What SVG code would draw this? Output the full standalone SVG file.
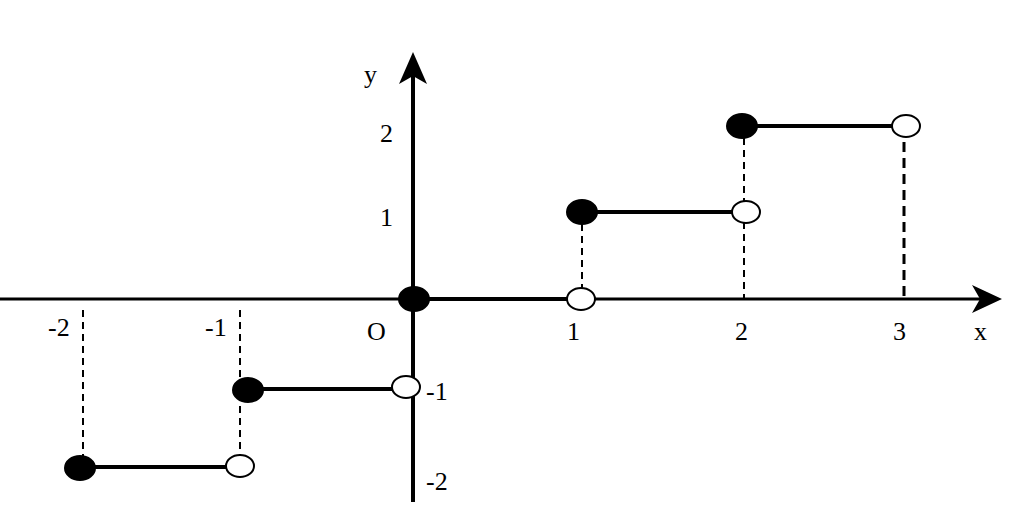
<svg xmlns="http://www.w3.org/2000/svg" width="1024" height="532" viewBox="0 0 1024 532">
<style>
.t{font-family:"Liberation Serif",serif;font-size:26px;fill:#000}
.seg{stroke:#000;stroke-width:4}
.d{stroke:#000;stroke-width:2;stroke-dasharray:7,5}
.f{fill:#000;stroke:#000;stroke-width:2}
.o{fill:#fff;stroke:#000;stroke-width:2}
</style>
<rect width="1024" height="532" fill="#fff"/>
<g id="axes">
<line x1="0" y1="299" x2="985" y2="299" stroke="#000" stroke-width="3"/>
<polygon points="1002,299 972,285 980,299 972,313" fill="#000"/>
<line x1="413" y1="502" x2="413" y2="72" stroke="#000" stroke-width="4"/>
<polygon points="413,52 399,84 413,76 427,84" fill="#000"/>
</g>
<g id="connectors">
<line class="d" x1="83" y1="310" x2="83" y2="468"/>
<line class="d" x1="240" y1="310" x2="240" y2="466"/>
<line class="d" x1="582" y1="212" x2="582" y2="299"/>
<line class="d" x1="744" y1="126" x2="744" y2="299"/>
<line class="d" x1="904" y1="126" x2="904" y2="299" style="stroke-width:3;stroke-dasharray:10,6"/>
<line class="seg" x1="80" y1="467" x2="240" y2="467"/>
<line class="seg" x1="248" y1="389" x2="406" y2="389"/>
<line class="seg" x1="413" y1="299" x2="581" y2="299"/>
<line class="seg" x1="582" y1="212" x2="746" y2="212"/>
<line class="seg" x1="742" y1="126" x2="906" y2="126"/>
</g>
<g id="points">
<ellipse class="f" cx="80" cy="468" rx="15" ry="12"/>
<ellipse class="o" cx="240" cy="466" rx="14" ry="11"/>
<ellipse class="f" cx="248" cy="390" rx="15" ry="12"/>
<ellipse class="o" cx="406" cy="387" rx="14" ry="11"/>
<ellipse class="f" cx="414" cy="299" rx="15" ry="12"/>
<ellipse class="o" cx="581" cy="299" rx="14" ry="11"/>
<ellipse class="f" cx="582" cy="212" rx="15" ry="12"/>
<ellipse class="o" cx="746" cy="212" rx="14" ry="11"/>
<ellipse class="f" cx="742" cy="126" rx="15" ry="12"/>
<ellipse class="o" cx="906" cy="126" rx="14" ry="11"/>
</g>
<g id="labels">
<text class="t" x="364" y="83">y</text>
<text class="t" x="380" y="142">2</text>
<text class="t" x="380" y="226">1</text>
<text class="t" x="48" y="336">-2</text>
<text class="t" x="205" y="336">-1</text>
<text class="t" x="367" y="340">O</text>
<text class="t" x="567" y="340">1</text>
<text class="t" x="735" y="340">2</text>
<text class="t" x="893" y="340">3</text>
<text class="t" x="974" y="340">x</text>
<text class="t" x="426" y="400">-1</text>
<text class="t" x="426" y="490">-2</text>
</g>
</svg>
